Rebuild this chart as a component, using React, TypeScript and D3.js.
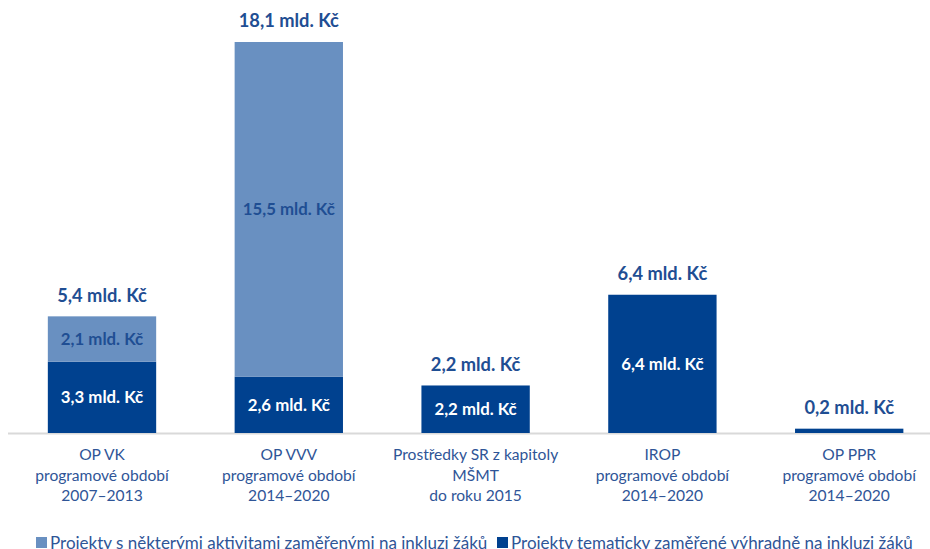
import React from "react";
import * as d3 from "d3";

const categories = [
  ["OP VK", "programové období", "2007–2013"],
  ["OP VVV", "programové období", "2014–2020"],
  ["Prostředky SR z kapitoly", "MŠMT", "do roku 2015"],
  ["IROP", "programové období", "2014–2020"],
  ["OP PPR", "programové období", "2014–2020"],
];
const thematic = [3.3, 2.6, 2.2, 6.4, 0.2];
const partial = [2.1, 15.5, 0, 0, 0];
const totals = [5.4, 18.1, 2.2, 6.4, 0.2];
const seriesNames = [
  "Projekty s některými aktivitami zaměřenými na inkluzi žáků",
  "Projekty tematicky zaměřené výhradně na inkluzi žáků",
];

const W = 930;
const H = 549;
const LIGHT = "#6990c1";
const DARK = "#00418f";
const TEXT = "#1f4e93";
const CAT = "#2f5597";
const FONT = "Lato, 'Open Sans', sans-serif";

const fmt = (v: number) => v.toFixed(1).replace(".", ",") + " mld. Kč";

export default function App() {
  const x = d3
    .scaleBand<number>()
    .domain(d3.range(categories.length))
    .range([8.6, 942.6])
    .paddingInner(0.42)
    .paddingOuter(0.21);
  const y = d3.scaleLinear().domain([0, 18.1]).range([433, 42]);

  return (
    <svg width={W} height={H} style={{ position: "absolute", left: 0, top: 0 }} fontFamily={FONT}>
      <rect width={W} height={H} fill="#fff" />
      <line x1={8} x2={930} y1={433.5} y2={433.5} stroke="#d9d9d9" strokeWidth={2} />
      {categories.map((c, i) => {
        const bx = x(i)!;
        const bw = x.bandwidth();
        const cx = bx + bw / 2;
        const d0 = y(0);
        const d1 = y(thematic[i]);
        const p1 = y(thematic[i] + partial[i]);
        return (
          <g key={i}>
            <rect x={bx} y={d1} width={bw} height={d0 - d1} fill={DARK} />
            {partial[i] > 0 && (
              <rect x={bx} y={p1} width={bw} height={d1 - p1} fill={LIGHT} />
            )}
            {thematic[i] >= 1 && (
              <text x={cx} y={(d0 + d1) / 2} dy="0.35em" textAnchor="middle" fill="#fff" fontWeight="bold" fontSize={16.8}>
                {fmt(thematic[i])}
              </text>
            )}
            {partial[i] > 0 && (
              <text x={cx} y={(d1 + p1) / 2} dy="0.35em" textAnchor="middle" fill={TEXT} fontWeight="bold" fontSize={16.8}>
                {fmt(partial[i])}
              </text>
            )}
            <text x={cx} y={y(totals[i]) - 21} dy="0.35em" textAnchor="middle" fill={TEXT} fontWeight="bold" fontSize={18.3}>
              {fmt(totals[i])}
            </text>
            {c.map((line, j) => (
              <text key={j} x={cx} y={455 + j * 20.5} dy="0.35em" textAnchor="middle" fill={CAT} fontSize={15.6}>
                {line}
              </text>
            ))}
          </g>
        );
      })}
      <g>
        <rect x={36} y={537} width={11} height={11} fill={LIGHT} />
        <text x={50} y={543} dy="0.35em" fill={CAT} fontSize={17}>{seriesNames[0]}</text>
        <rect x={497} y={537} width={11} height={11} fill={DARK} />
        <text x={511} y={543} dy="0.35em" fill={CAT} fontSize={17}>{seriesNames[1]}</text>
      </g>
    </svg>
  );
}
